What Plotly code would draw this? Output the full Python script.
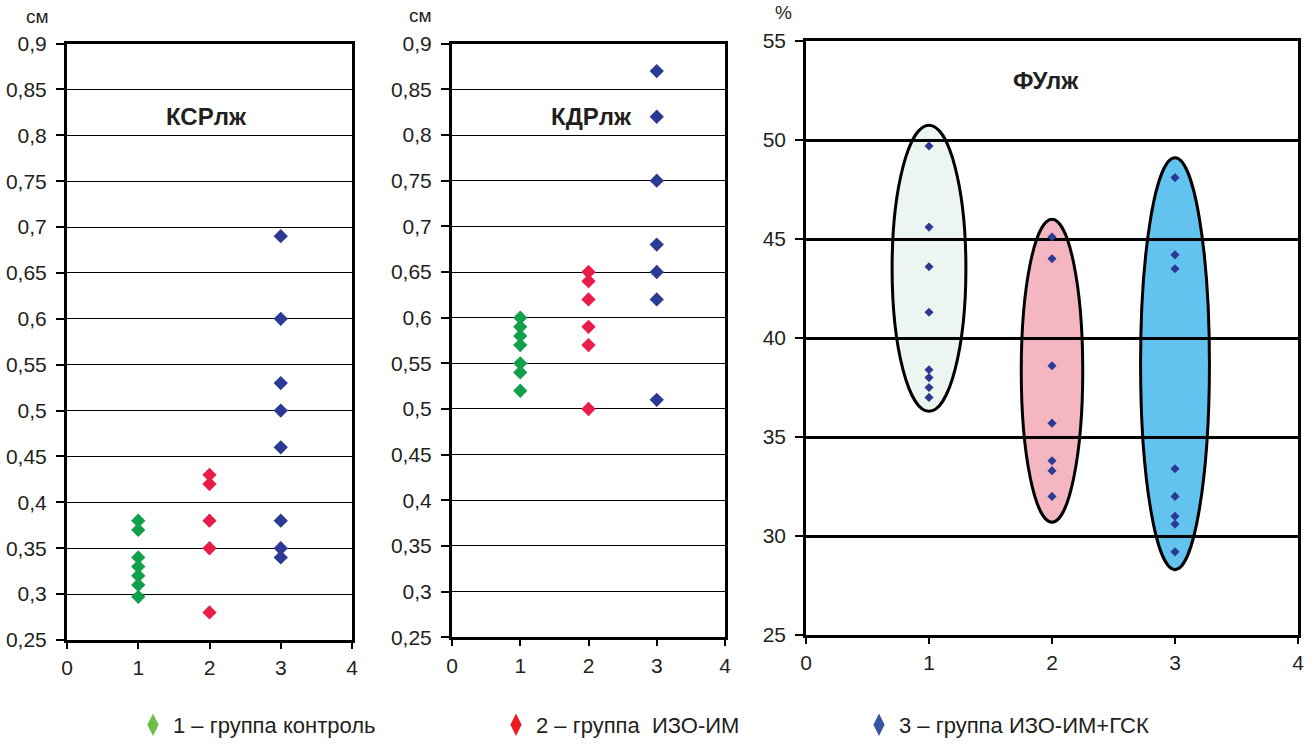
import plotly.graph_objects as go

# ---------------- data ----------------
groups = [1, 2, 3]
group_names = ["1 – группа контроль", "2 – группа  ИЗО-ИМ", "3 – группа ИЗО-ИМ+ГСК"]

ksr_g1 = [0.38, 0.37, 0.34, 0.33, 0.32, 0.31, 0.297]
ksr_g2 = [0.43, 0.42, 0.38, 0.35, 0.28]
ksr_g3 = [0.69, 0.60, 0.53, 0.50, 0.46, 0.38, 0.35, 0.34]

kdr_g1 = [0.60, 0.59, 0.58, 0.57, 0.55, 0.54, 0.52]
kdr_g2 = [0.65, 0.64, 0.62, 0.59, 0.57, 0.50]
kdr_g3 = [0.87, 0.82, 0.75, 0.68, 0.65, 0.62, 0.51]

fu_g1 = [49.7, 45.6, 43.6, 41.3, 38.4, 38.0, 37.5, 37.0]
fu_g2 = [45.1, 44.0, 38.6, 35.7, 33.8, 33.3, 32.0]
fu_g3 = [48.1, 44.2, 43.5, 33.4, 32.0, 31.0, 30.6, 29.2]

# extent of the group ellipses in the ФУлж panel (data units)
ellipse_half_width = [0.30, 0.25, 0.28]
ellipse_low = [36.3, 30.7, 28.3]
ellipse_high = [50.75, 46.0, 49.1]

x_ticks = [0, 1, 2, 3, 4]
cm_ticks = [0.25, 0.3, 0.35, 0.4, 0.45, 0.5, 0.55, 0.6, 0.65, 0.7, 0.75, 0.8, 0.85, 0.9]
cm_tick_labels = ["0,25", "0,3", "0,35", "0,4", "0,45", "0,5", "0,55", "0,6", "0,65",
                  "0,7", "0,75", "0,8", "0,85", "0,9"]
pct_ticks = [25, 30, 35, 40, 45, 50, 55]
pct_tick_labels = ["25", "30", "35", "40", "45", "50", "55"]

panel_titles = ["КСРлж", "КДРлж", "ФУлж"]

# ---------------- style ----------------
W, H = 1315, 744
FONT = "Liberation Sans, Arial, sans-serif"
pt_colors = ["#12a04c", "#ea1d4a", "#2b3a94"]
legend_colors = ["#6dbe45", "#ed1c24", "#3953a4"]
ellipse_fill = ["#edf5f0", "#f4b6c0", "#62c3ee"]
TXT = "#231f20"


def px_x(p):
    return p / W


def px_y(p):
    return (H - p) / H


fig = go.Figure()

panels = [
    ("x", "y", [ksr_g1, ksr_g2, ksr_g3], 11),
    ("x2", "y2", [kdr_g1, kdr_g2, kdr_g3], 11),
    ("x3", "y3", [fu_g1, fu_g2, fu_g3], 7),
]
for xa, ya, series, msize in panels:
    color_list = pt_colors if xa != "x3" else [pt_colors[2]] * 3
    for g, vals, c in zip(groups, series, color_list):
        fig.add_trace(go.Scatter(
            x=[g] * len(vals), y=vals, mode="markers", xaxis=xa, yaxis=ya,
            marker=dict(symbol="diamond", size=msize, color=c, line=dict(width=0)),
            showlegend=False, hoverinfo="x+y"))

# legend entries
for name, c in zip(group_names, legend_colors):
    fig.add_trace(go.Scatter(
        x=[None], y=[None], mode="markers", name=name,
        marker=dict(symbol="diamond-tall", size=20, color=c), showlegend=True))

# ellipses
for g, hw, lo, hi, fc in zip(groups, ellipse_half_width, ellipse_low, ellipse_high, ellipse_fill):
    fig.add_shape(type="circle", xref="x3", yref="y3", x0=g - hw, x1=g + hw, y0=lo, y1=hi,
                  fillcolor=fc, line=dict(color="black", width=3), layer="below")

common_x = dict(range=[0, 4], tickvals=x_ticks, ticks="outside", ticklen=6, tickwidth=1.5,
                tickcolor="black", showline=True, linecolor="black", mirror=True,
                showgrid=False, zeroline=False, ticklabelstandoff=1, automargin=False,
                tickfont=dict(family=FONT, size=21, color=TXT))
common_y = dict(ticks="outside", ticklen=8, tickwidth=1.5, tickcolor="black", showline=True,
                linecolor="black", mirror=True, showgrid=True, gridcolor="black",
                zeroline=False, ticklabelstandoff=5, automargin=False,
                tickfont=dict(family=FONT, size=21, color=TXT))

fig.update_layout(
    width=W, height=H, margin=dict(l=0, r=0, t=0, b=0, autoexpand=False),
    paper_bgcolor="white", plot_bgcolor="white",
    xaxis=dict(common_x, domain=[px_x(67), px_x(352)], anchor="y", linewidth=3),
    yaxis=dict(common_y, domain=[px_y(640), px_y(43.5)], anchor="x", range=[0.25, 0.9],
               tickvals=cm_ticks, ticktext=cm_tick_labels, gridwidth=1.3, linewidth=3),
    xaxis2=dict(common_x, domain=[px_x(452), px_x(725)], anchor="y2", linewidth=3),
    yaxis2=dict(common_y, domain=[px_y(637.3), px_y(43.7)], anchor="x2", range=[0.25, 0.9],
                tickvals=cm_ticks, ticktext=cm_tick_labels, gridwidth=1.3, linewidth=3),
    xaxis3=dict(common_x, domain=[px_x(806), px_x(1298)], anchor="y3", linewidth=2.5),
    yaxis3=dict(common_y, domain=[px_y(635), px_y(41)], anchor="x3", range=[25, 55],
                tickvals=pct_ticks, ticktext=pct_tick_labels, gridwidth=2.5, linewidth=2.5),
    legend=dict(orientation="h", x=px_x(133), y=px_y(725), xanchor="left", yanchor="middle",
                entrywidth=318, entrywidthmode="pixels", itemsizing="trace",
                font=dict(family=FONT, size=22, color=TXT), bgcolor="rgba(0,0,0,0)"),
    showlegend=True,
)

# panel titles
title_pos = [("x", "y", 1.96, 0.82), ("x2", "y2", 2.04, 0.82), ("x3", "y3", 1.95, 53.0)]
for (xa, ya, tx, ty), t in zip(title_pos, panel_titles):
    fig.add_annotation(x=tx, y=ty, xref=xa, yref=ya, text="<b>%s</b>" % t, showarrow=False,
                       font=dict(family=FONT, size=24, color=TXT))

# unit labels
for ux, uy, ut in [(37, 17, "см"), (420, 16, "см"), (783, 13, "%")]:
    fig.add_annotation(x=px_x(ux), y=px_y(uy), xref="paper", yref="paper", text=ut,
                       xanchor="center", yanchor="middle",
                       showarrow=False, font=dict(family=FONT, size=19, color=TXT))

fig.write_html("out.html", config={"displayModeBar": False},
               post_script="document.body.style.margin='0';document.documentElement.style.margin='0';")
